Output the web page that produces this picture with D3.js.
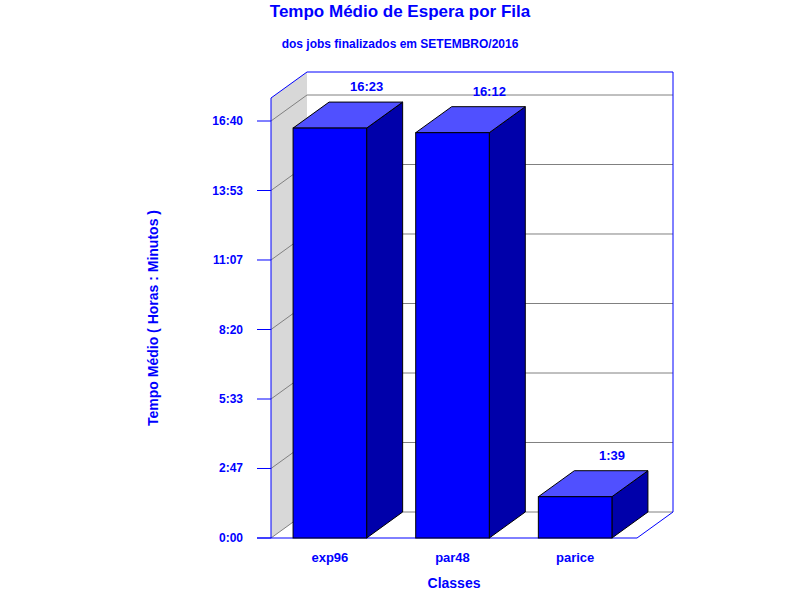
<!DOCTYPE html><html><head><meta charset="utf-8"><script src="https://cdn.jsdelivr.net/npm/d3@7"></script>
<style>body{margin:0;background:#fff}text{font-family:Arial,"Liberation Sans",sans-serif;font-weight:bold;fill:#0000ff}</style></head><body>
<script>
const categories=["exp96","par48","parice"];
const values=[983,972,99]; // minutes
const valueLabels=["16:23","16:12","1:39"];
const tickValues=[0,166.67,333.33,500,666.67,833.33,1000];
const tickLabels=["0:00","2:47","5:33","8:20","11:07","13:53","16:40"];
const W=800,H=600,x0=271,x1=637,yB=538,dx=36,dy=-26;
const svg=d3.select("body").append("svg").attr("width",W).attr("height",H);
const y=d3.scaleLinear().domain([0,1000]).range([yB,121]);
const x=d3.scaleBand().domain(categories).range([x0,x0+363]).paddingInner(0.4).paddingOuter(0.18);
const topY=72;
// left wall
svg.append("polygon").attr("points",`${x0},${yB} ${x0},${topY-dy} ${x0+dx},${topY} ${x0+dx},${yB+dy}`).attr("fill","#d8d8d8");
// gridlines
tickValues.forEach(v=>{const yy=y(v);
 svg.append("line").attr("x1",x0).attr("y1",yy).attr("x2",x0+dx).attr("y2",yy+dy).attr("stroke","#808080");
 svg.append("line").attr("x1",x0+dx).attr("y1",yy+dy).attr("x2",x1+dx).attr("y2",yy+dy).attr("stroke","#808080");
});
const bl=(a,b,c,d)=>svg.append("line").attr("x1",a).attr("y1",b).attr("x2",c).attr("y2",d).attr("stroke","#0000ff");
bl(x0+dx,topY,x1+dx,topY);bl(x1+dx,topY,x1+dx,yB+dy);bl(x1+dx,yB+dy,x1,yB);bl(257,yB,x1,yB);
bl(x0,yB,x0,topY-dy);bl(x0,topY-dy,x0+dx,topY);
// y axis ticks
tickValues.forEach((v,i)=>{bl(257,y(v),x0,y(v));
 svg.append("text").attr("x",243).attr("y",y(v)+4).attr("text-anchor","end").attr("font-size",12).text(tickLabels[i]);});
// bars
categories.forEach((c,i)=>{const a=x(c),b=a+x.bandwidth(),t=y(values[i]);
 svg.append("polygon").attr("points",`${b},${t} ${b+dx},${t+dy} ${b+dx},${yB+dy} ${b},${yB}`).attr("fill","#0000aa").attr("stroke","#000");
 svg.append("polygon").attr("points",`${a},${t} ${a+dx},${t+dy} ${b+dx},${t+dy} ${b},${t}`).attr("fill","#5050ff").attr("stroke","#000");
 svg.append("rect").attr("x",a).attr("y",t).attr("width",b-a).attr("height",yB-t).attr("fill","#0000ff").attr("stroke","#000");
 svg.append("text").attr("x",b).attr("y",t+dy-11).attr("text-anchor","middle").attr("font-size",13).text(valueLabels[i]);
 svg.append("text").attr("x",(a+b)/2).attr("y",562).attr("text-anchor","middle").attr("font-size",13).text(c);
});
svg.append("text").attr("x",454).attr("y",588).attr("text-anchor","middle").attr("font-size",14).text("Classes");
svg.append("text").attr("transform","translate(158,318) rotate(-90)").attr("text-anchor","middle").attr("font-size",14).text("Tempo Médio ( Horas : Minutos )");
svg.append("text").attr("x",400).attr("y",17).attr("text-anchor","middle").attr("font-size",17).text("Tempo Médio de Espera por Fila");
svg.append("text").attr("x",400).attr("y",48).attr("text-anchor","middle").attr("font-size",12).text("dos jobs finalizados em SETEMBRO/2016");
</script></body></html>
